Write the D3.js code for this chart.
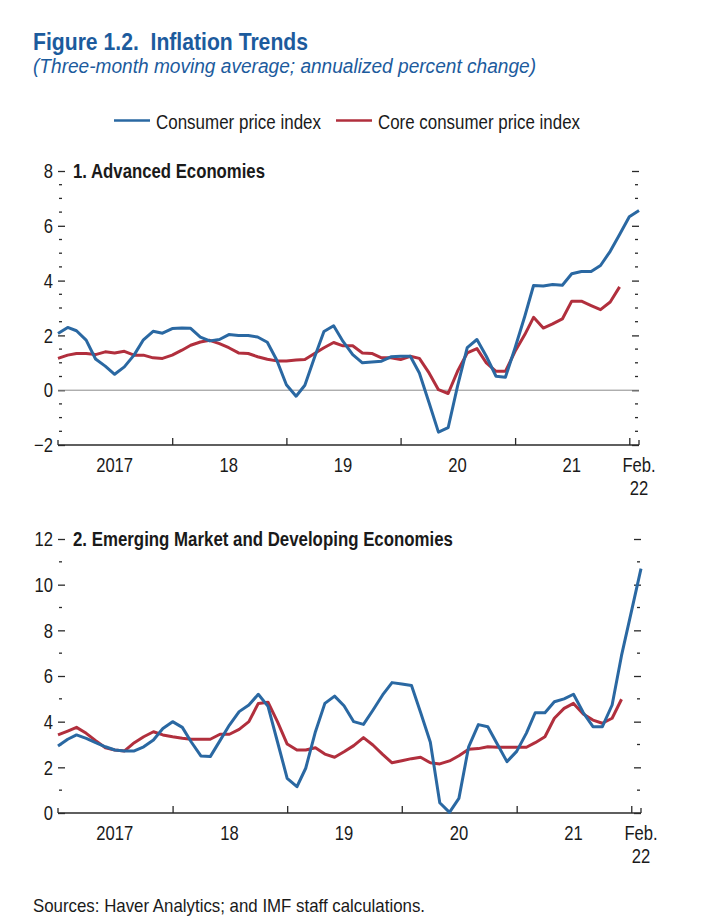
<!DOCTYPE html>
<html>
<head>
<meta charset="utf-8">
<script src="https://cdn.jsdelivr.net/npm/d3@7"></script>
<style>
  html, body { margin: 0; padding: 0; background: #fff; }
  svg { display: block; }
  text { font-family: "Liberation Sans", Arial, "Helvetica", sans-serif; }
</style>
</head>
<body>
<svg id="chart" width="705" height="916"></svg>
<script>
// ---------------- DATA ----------------
const startMonth = new Date(2017, 0, 1);
const endMonth = new Date(2022, 1, 1);   // Feb. 2022
const months = d3.timeMonth.range(startMonth, d3.timeMonth.offset(endMonth, 1)); // Jan 2017 .. Feb 2022

const seriesNames = ["Consumer price index", "Core consumer price index"];
const yearLabels = ["2017", "18", "19", "20", "21"];
const lastLabel = ["Feb.", "22"];

// Panel 1: Advanced Economies
const advCPI = [2.07, 2.29, 2.17, 1.83, 1.14, 0.88, 0.58, 0.85, 1.28, 1.84, 2.15, 2.08,
                2.25, 2.27, 2.26, 1.94, 1.80, 1.85, 2.03, 2.00, 2.00, 1.94, 1.75, 1.10,
                0.20, -0.22, 0.18, 1.20, 2.14, 2.35, 1.78, 1.30, 1.00, 1.03, 1.06, 1.22,
                1.24, 1.24, 0.63, -0.46, -1.53, -1.37, 0.15, 1.55, 1.85, 1.24, 0.51, 0.47,
                1.55, 2.70, 3.82, 3.80, 3.86, 3.83, 4.25, 4.33, 4.33, 4.55, 5.07, 5.68,
                6.33, 6.56];
const advCore = [1.16, 1.28, 1.34, 1.34, 1.30, 1.40, 1.36, 1.42, 1.28, 1.28, 1.18, 1.16,
                 1.28, 1.46, 1.64, 1.76, 1.82, 1.70, 1.55, 1.36, 1.34, 1.22, 1.13, 1.07,
                 1.07, 1.10, 1.12, 1.34, 1.55, 1.74, 1.62, 1.62, 1.36, 1.34, 1.18, 1.18,
                 1.12, 1.24, 1.16, 0.63, 0.02, -0.12, 0.69, 1.36, 1.52, 1.00, 0.69, 0.69,
                 1.42, 2.03, 2.66, 2.27, 2.42, 2.60, 3.25, 3.25, 3.09, 2.94, 3.22, 3.77];

// Panel 2: Emerging Market and Developing Economies
const emCPI = [2.93, 3.23, 3.42, 3.27, 3.08, 2.90, 2.76, 2.72, 2.72, 2.90, 3.20, 3.70,
               4.00, 3.75, 3.12, 2.50, 2.47, 3.17, 3.85, 4.44, 4.73, 5.20, 4.67, 3.12,
               1.52, 1.15, 1.96, 3.56, 4.80, 5.12, 4.70, 4.00, 3.88, 4.50, 5.17, 5.71,
               5.65, 5.58, 4.40, 3.10, 0.45, 0.03, 0.64, 2.90, 3.87, 3.78, 3.00, 2.25,
               2.70, 3.50, 4.39, 4.39, 4.87, 5.00, 5.20, 4.40, 3.78, 3.78, 4.73, 6.90,
               8.80, 10.70];
const emCore = [3.42, 3.59, 3.75, 3.49, 3.17, 2.86, 2.76, 2.72, 3.08, 3.34, 3.56, 3.42,
                3.34, 3.27, 3.23, 3.23, 3.23, 3.45, 3.45, 3.66, 4.00, 4.80, 4.85, 4.00,
                3.02, 2.76, 2.76, 2.86, 2.58, 2.44, 2.68, 2.95, 3.30, 2.98, 2.57, 2.20,
                2.29, 2.38, 2.44, 2.20, 2.15, 2.28, 2.51, 2.79, 2.82, 2.90, 2.88, 2.88,
                2.88, 2.88, 3.08, 3.34, 4.15, 4.58, 4.80, 4.34, 4.07, 3.93, 4.15, 4.98];

const panel1Ticks = [-2, 0, 2, 4, 6, 8];
const panel2Ticks = [0, 2, 4, 6, 8, 10, 12];

// ---------------- STYLE ----------------
const BLUE = "#2a68a2";
const RED = "#b12f3d";
const TITLE_BLUE = "#1c5b9d";
const AXIS = "#2a2a2a";
const TEXT = "#1a1a1a";
const CONDENSE = 0.83;

const svg = d3.select("#chart");

// condense text horizontally (reference uses a condensed typeface)
function condense(sel, target) {
  sel.each(function() {
    const w = this.getComputedTextLength();
    const t = target != null ? target : w * CONDENSE;
    d3.select(this).attr("textLength", t).attr("lengthAdjust", "spacingAndGlyphs");
  });
  return sel;
}

// Title block
condense(svg.append("text").attr("x", 33).attr("y", 49.5)
  .attr("fill", TITLE_BLUE).attr("font-size", 24.5).attr("font-weight", "bold")
  .text("Figure 1.2.\u00a0\u00a0Inflation Trends"), 275);
condense(svg.append("text").attr("x", 33).attr("y", 72.5)
  .attr("fill", TITLE_BLUE).attr("font-size", 20.5).attr("font-style", "italic")
  .text("(Three-month moving average; annualized percent change)"), 503);

// Legend
const legend = [
  {name: seriesNames[0], color: BLUE, x: 114, w: 165},
  {name: seriesNames[1], color: RED, x: 336, w: 202}
];
legend.forEach(l => {
  svg.append("line").attr("x1", l.x).attr("x2", l.x + 36).attr("y1", 120.5).attr("y2", 120.5)
    .attr("stroke", l.color).attr("stroke-width", 2.5);
  condense(svg.append("text").attr("x", l.x + 42).attr("y", 129).attr("font-size", 20.5).attr("fill", TEXT)
    .text(l.name), l.w);
});

// Sources
condense(svg.append("text").attr("x", 33).attr("y", 911.5).attr("font-size", 18.5).attr("fill", TEXT)
  .text("Sources: Haver Analytics; and IMF staff calculations."), 392);

function drawPanel(cfg) {
  const g = svg.append("g");
  const x = d3.scaleTime().domain([startMonth, endMonth]).range([cfg.x0, cfg.x1]);
  const y = d3.scaleLinear().domain(cfg.yDomain).range([cfg.yBottom, cfg.yTop]);

  // minor ticks
  const minor = d3.range(cfg.yDomain[0], cfg.yDomain[1] + 1e-9, cfg.minorStep)
    .filter(v => !cfg.ticks.includes(v));
  g.selectAll(".minL").data(minor).join("line")
    .attr("x1", cfg.x0 + 1).attr("x2", cfg.x0 + 4)
    .attr("y1", d => y(d)).attr("y2", d => y(d))
    .attr("stroke", AXIS).attr("stroke-width", 1.3);
  g.selectAll(".minR").data(minor).join("line")
    .attr("x1", cfg.x1 - 4).attr("x2", cfg.x1 - 1)
    .attr("y1", d => y(d)).attr("y2", d => y(d))
    .attr("stroke", AXIS).attr("stroke-width", 1.3);

  // major ticks (inward) using d3 axes
  const leftAxis = d3.axisRight(y).tickValues(cfg.ticks).tickSize(7).tickFormat("");
  const la = g.append("g").attr("transform", `translate(${cfg.x0},0)`).call(leftAxis);
  la.select(".domain").remove();
  la.selectAll(".tick line").attr("stroke", AXIS).attr("stroke-width", 1.3);

  const rightAxis = d3.axisLeft(y).tickValues(cfg.ticks).tickSize(7).tickFormat("");
  const ra = g.append("g").attr("transform", `translate(${cfg.x1},0)`).call(rightAxis);
  ra.select(".domain").remove();
  ra.selectAll(".tick line").attr("stroke", AXIS).attr("stroke-width", 1.3);

  // y labels
  condense(g.selectAll(".ylab").data(cfg.ticks).join("text")
    .attr("x", cfg.x0 - 5).attr("y", d => y(d)).attr("dy", "0.36em")
    .attr("text-anchor", "end").attr("font-size", 20).attr("fill", TEXT)
    .text(d => d < 0 ? "\u2212" + Math.abs(d) : d));

  // zero line
  if (cfg.yDomain[0] < 0) {
    g.append("line").attr("x1", cfg.x0).attr("x2", cfg.x1)
      .attr("y1", y(0)).attr("y2", y(0)).attr("stroke", "#8a8a8a").attr("stroke-width", 1);
  }

  // bottom axis
  const yearTicks = d3.timeYear.range(d3.timeYear.offset(startMonth, 1), endMonth);
  const bAxis = d3.axisTop(x).tickValues(yearTicks).tickSize(7).tickFormat("");
  const ba = g.append("g").attr("transform", `translate(0,${cfg.yBottom})`).call(bAxis);
  ba.select(".domain").remove();
  ba.selectAll(".tick line").attr("stroke", AXIS).attr("stroke-width", 1.3);
  g.append("line").attr("x1", cfg.x0).attr("x2", cfg.x1)
    .attr("y1", cfg.yBottom).attr("y2", cfg.yBottom).attr("stroke", AXIS).attr("stroke-width", 1.6);
  [cfg.x0, cfg.x1].forEach(xx => {
    g.append("line").attr("x1", xx).attr("x2", xx)
      .attr("y1", cfg.yBottom).attr("y2", cfg.yBottom - 5).attr("stroke", AXIS).attr("stroke-width", 1.3);
  });

  // x labels (mid-year)
  const midYears = yearLabels.map((l, i) => ({l, d: new Date(2017 + i, 6, 1)}));
  condense(g.selectAll(".xlab").data(midYears).join("text")
    .attr("x", d => x(d.d)).attr("y", cfg.yBottom + 27)
    .attr("text-anchor", "middle").attr("font-size", 20).attr("fill", TEXT)
    .text(d => d.l));
  condense(g.append("text").attr("x", x(endMonth)).attr("y", cfg.yBottom + 27)
    .attr("text-anchor", "middle").attr("font-size", 20).attr("fill", TEXT).text(lastLabel[0]));
  condense(g.append("text").attr("x", x(endMonth)).attr("y", cfg.yBottom + 49.5)
    .attr("text-anchor", "middle").attr("font-size", 20).attr("fill", TEXT).text(lastLabel[1]));

  // panel title
  condense(g.append("text").attr("x", cfg.x0 + 15).attr("y", cfg.yTop + 6.5)
    .attr("font-size", 19.5).attr("font-weight", "bold").attr("fill", TEXT)
    .text(cfg.title), cfg.titleWidth);

  // lines
  const line = d3.line().x((d, i) => x(months[i])).y(d => y(d));
  g.append("path").datum(cfg.core).attr("d", line)
    .attr("fill", "none").attr("stroke", RED).attr("stroke-width", 3).attr("stroke-linejoin", "round");
  g.append("path").datum(cfg.cpi).attr("d", line)
    .attr("fill", "none").attr("stroke", BLUE).attr("stroke-width", 3).attr("stroke-linejoin", "round");
}

drawPanel({
  title: "1. Advanced Economies", titleWidth: 192,
  x0: 58, x1: 639, yTop: 171, yBottom: 445,
  yDomain: [-2, 8], ticks: panel1Ticks, minorStep: 0.5,
  cpi: advCPI, core: advCore
});
drawPanel({
  title: "2. Emerging Market and Developing Economies", titleWidth: 380,
  x0: 58, x1: 641, yTop: 539, yBottom: 813,
  yDomain: [0, 12], ticks: panel2Ticks, minorStep: 1,
  cpi: emCPI, core: emCore
});
</script>
</body>
</html>
